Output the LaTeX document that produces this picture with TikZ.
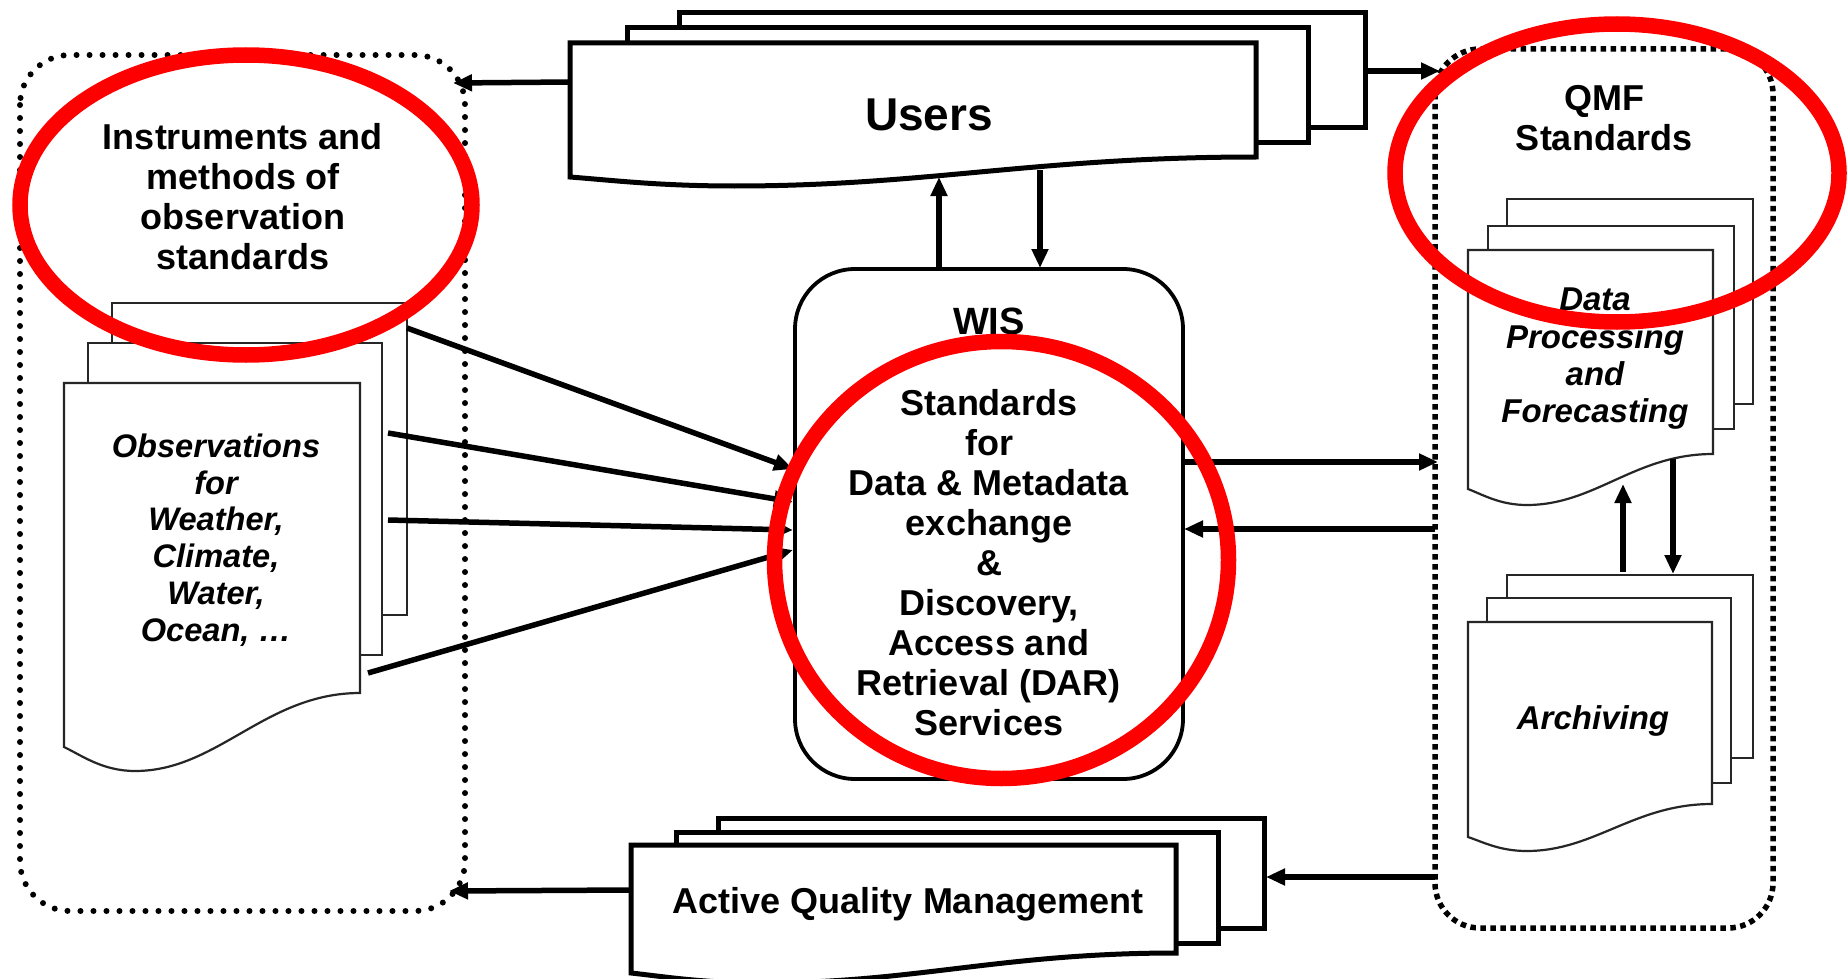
\documentclass[tikz,border=0pt]{standalone}
\usepackage{fontspec}
\setmainfont{Liberation Sans}
\usetikzlibrary{arrows.meta}
\newcommand\docsheet[7]{%
  \pgfmathsetmacro\dW{#4-#2}%
  \pgfmathsetmacro\cA{#4-0.32*\dW}%
  \pgfmathsetmacro\cB{#2+0.52*\dW}%
  \pgfmathsetmacro\mX{#2+0.24*\dW}%
  \pgfmathsetmacro\cC{#2+0.13*\dW}%
  \pgfmathsetmacro\cD{#2+0.06*\dW}%
  \pgfmathsetmacro\cE{#6+0.35*(#7-#6)}%
  \draw[#1] (#2,#3) -- (#4,#3) -- (#4,#5) .. controls (\cA,#5) and (\cB,#7) .. (\mX,#7)
     .. controls (\cC,#7) and (\cD,\cE) .. (#2,#6) -- cycle;}
\tikzset{
  thin sheet/.style={draw=black!85, line width=2.2pt, fill=white},
  thick sheet/.style={draw=black, line width=5pt, fill=white},
  conn/.style={line width=5.5pt, -{Triangle[length=19pt,width=16pt]}},
  roundgroup/.style={line width=6pt, dash pattern=on 0pt off 13pt, line cap=round, rounded corners=50pt},
  squaregroup/.style={line width=5.5pt, dash pattern=on 5.5pt off 4.5pt, rounded corners=45pt},
  redmark/.style={draw=red, line width=15.5pt},
  lbl/.style={align=center, inner sep=0pt, font=\bfseries\fontsize{36}{40}\selectfont},
  ilbl/.style={align=center, inner sep=0pt, font=\bfseries\itshape\fontsize{33}{37.3}\selectfont}
}
\begin{document}
\begin{tikzpicture}[x=1pt,y=-1pt]
\useasboundingbox[fill=white] (0,0) rectangle (1847,979);

% dotted groups
\draw[roundgroup] (20,55) rectangle (465,911);
\draw[squaregroup] (1435,49) rectangle (1773,928);

% Observations stack
\draw[thin sheet] (112,303) rectangle (407,615);
\draw[thin sheet] (88,343) rectangle (382,655);
\docsheet{thin sheet}{64}{383}{360}{693}{747}{771}

% Data processing stack
\draw[thin sheet] (1507,199) rectangle (1753,404);
\draw[thin sheet] (1488,226) rectangle (1734,429);
\docsheet{thin sheet}{1468}{250}{1713}{454}{489}{505}

% Archiving stack
\draw[thin sheet] (1507,575) rectangle (1753,758);
\draw[thin sheet] (1487,598) rectangle (1731,783);
\docsheet{thin sheet}{1468}{622}{1712}{804}{837}{851}

% Users stack
\draw[thick sheet] (679,13) rectangle (1365,128);
\draw[thick sheet] (627,28) rectangle (1308,143);
\docsheet{thick sheet}{570}{43}{1256}{157}{177}{186}

% AQM stack
\draw[thick sheet] (718,818) rectangle (1264,928);
\draw[thick sheet] (676,832) rectangle (1218,943);
\docsheet{thick sheet}{631}{845}{1176}{953}{973}{983}

% WIS box
\draw[line width=3.8pt, rounded corners=60pt, fill=white] (795,269) rectangle (1183,779);

% texts
\node[lbl] (inst) at (243,197) {Instruments and\\methods of\\observation\\standards};
\node[lbl, font=\bfseries\fontsize{46}{50}\selectfont] (users) at (929,115) {Users};
\node[lbl] (qmf) at (1604,118) {QMF\\Standards};
\node[lbl, font=\bfseries\fontsize{38}{42}\selectfont] (wis) at (989,321) {WIS};
\node[lbl] (wistext) at (989,563) {Standards\\for\\Data \& Metadata\\exchange\\\&\\Discovery,\\Access and\\Retrieval (DAR)\\Services};
\node[ilbl, font=\bfseries\itshape\fontsize{32.6}{36.8}\selectfont] (obs) at (216,540) {Observations\\for\\Weather,\\Climate,\\Water,\\Ocean, \dots};
\node[ilbl] (dp) at (1595,359) {Data\\Processing\\and\\Forecasting};
\node[ilbl] (arch) at (1593,721) {Archiving};
\node[lbl] (aqm) at (908,904) {Active Quality Management};

% connector end points
\coordinate (usersL) at (570,82);
\coordinate (leftTop) at (453,83);
\coordinate (usersR) at (1365,71);
\coordinate (rightTop) at (1440,71);
\coordinate (wisUp) at (939,269);
\coordinate (usersUp) at (939,177);
\coordinate (usersDn) at (1040,170);
\coordinate (wisDn) at (1040,268);
\coordinate (obs1) at (407,328);
\coordinate (obs2) at (388,433);
\coordinate (obs3) at (388,520);
\coordinate (obs4) at (368,673);
\coordinate (wisIn1) at (793,469);
\coordinate (wisIn2) at (793,502);
\coordinate (wisIn3) at (793,530);
\coordinate (wisIn4) at (793,550);
\coordinate (wisOut) at (1183,462);
\coordinate (rightIn) at (1438,462);
\coordinate (rightOut) at (1435,529);
\coordinate (wisBack) at (1184,529);
\coordinate (archUp) at (1623,572);
\coordinate (dpBot) at (1623,484);
\coordinate (dpDn) at (1673,459);
\coordinate (archTop) at (1673,574);
\coordinate (rightLow) at (1435,877);
\coordinate (aqmR) at (1266,877);
\coordinate (aqmL) at (631,890);
\coordinate (leftLow) at (449,891);

% connectors
\draw[conn] (usersL) -- (leftTop);
\draw[conn] (usersR) -- (rightTop);
\draw[conn] (wisUp) -- (usersUp);
\draw[conn] (usersDn) -- (wisDn);
\draw[conn] (obs1) -- (wisIn1);
\draw[conn] (obs2) -- (wisIn2);
\draw[conn] (obs3) -- (wisIn3);
\draw[conn] (obs4) -- (wisIn4);
\draw[conn] (wisOut) -- (rightIn);
\draw[conn] (rightOut) -- (wisBack);
\draw[conn] (archUp) -- (dpBot);
\draw[conn] (dpDn) -- (archTop);
\draw[conn] (rightLow) -- (aqmR);
\draw[conn] (aqmL) -- (leftLow);

% red highlight ellipses
\draw[redmark] (246,205) ellipse [x radius=226, y radius=150];
\draw[redmark] (1617,173) ellipse [x radius=222, y radius=149];
\draw[redmark] (1001.5,560) ellipse [x radius=227, y radius=218.5];
\end{tikzpicture}
\end{document}
